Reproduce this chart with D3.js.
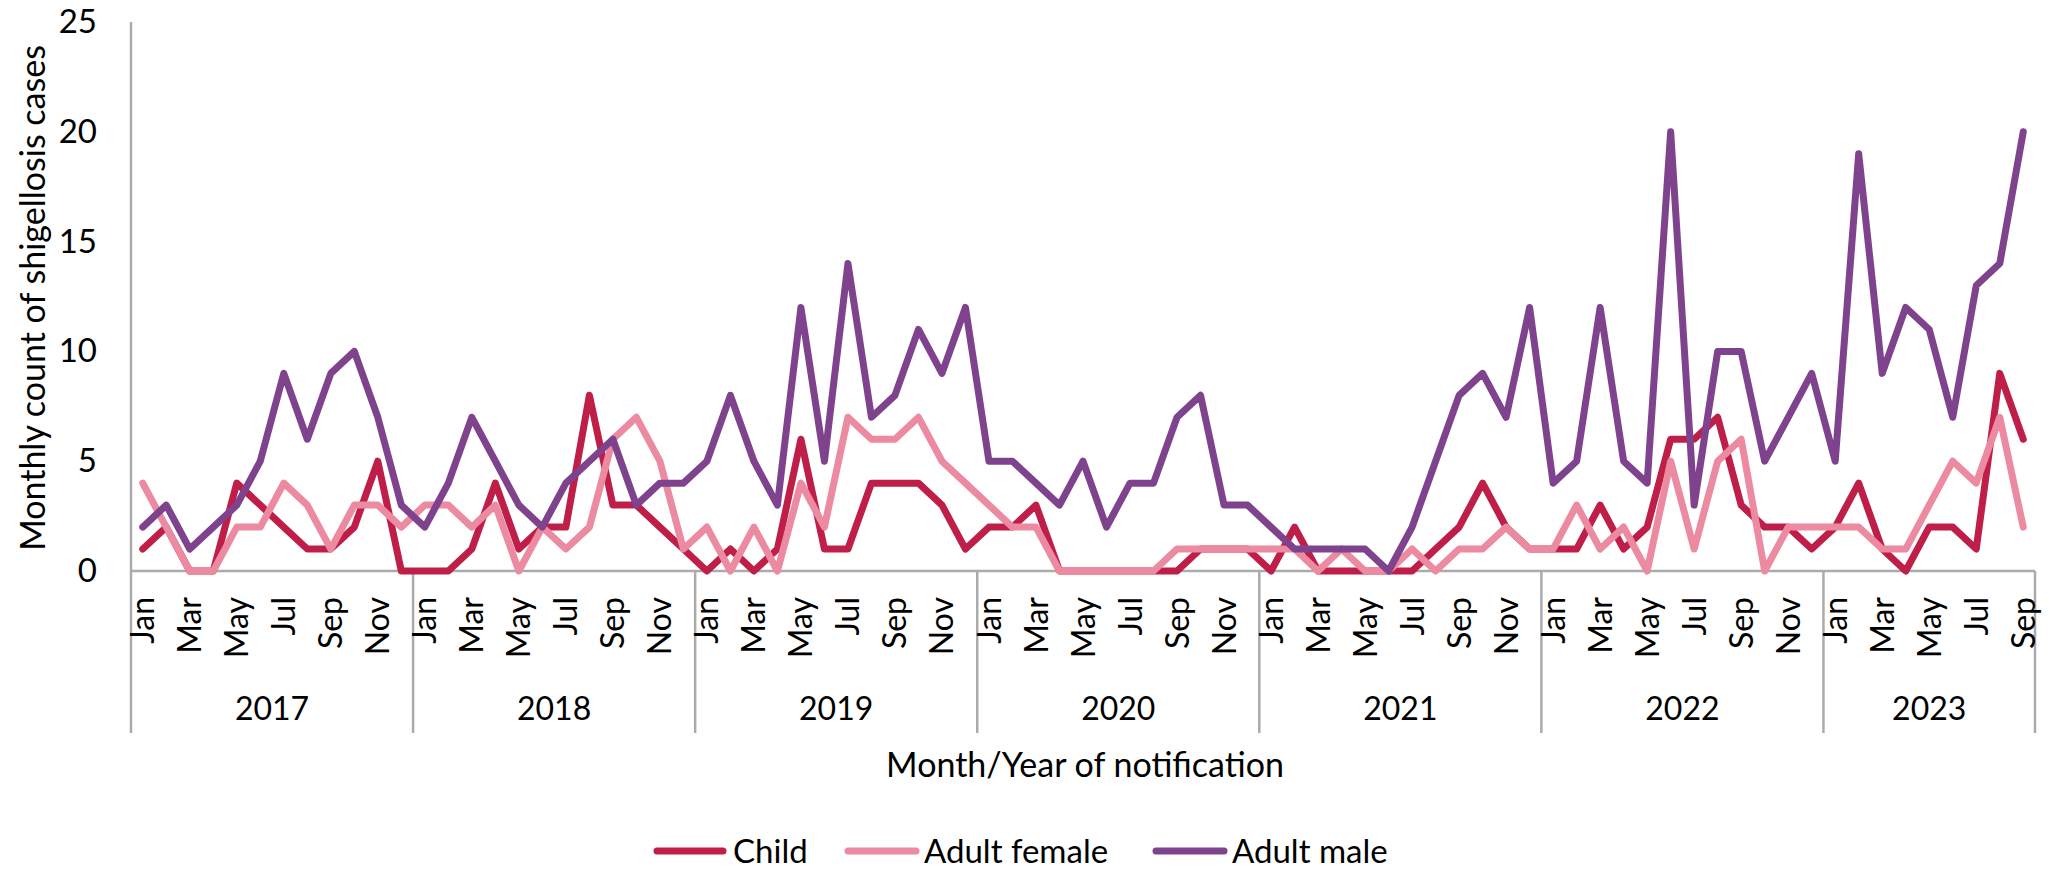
<!DOCTYPE html>
<html>
<head>
<meta charset="utf-8">
<script src="https://cdn.jsdelivr.net/npm/d3@7"></script>
<style>
  html, body { margin: 0; padding: 0; background: #ffffff; }
  svg { display: block; }
  text { font-family: Lato, "Open Sans", sans-serif; fill: #000; }
</style>
</head>
<body>
<svg id="chart" width="2049" height="874"></svg>
<script>
// Monthly shigellosis notifications, Jan 2017 – Sep 2023
const years = [2017, 2018, 2019, 2020, 2021, 2022, 2023];
const monthNames = ["Jan", "Feb", "Mar", "Apr", "May", "Jun", "Jul", "Aug", "Sep", "Oct", "Nov", "Dec"];
const monthsInLastYear = 9;

const child = [
  1, 2, 0, 0, 4, 3, 2, 1, 1, 2, 5, 0,
  0, 0, 1, 4, 1, 2, 2, 8, 3, 3, 2, 1,
  0, 1, 0, 1, 6, 1, 1, 4, 4, 4, 3, 1,
  2, 2, 3, 0, 0, 0, 0, 0, 0, 1, 1, 1,
  0, 2, 0, 0, 0, 0, 0, 1, 2, 4, 2, 1,
  1, 1, 3, 1, 2, 6, 6, 7, 3, 2, 2, 1,
  2, 4, 1, 0, 2, 2, 1, 9, 6
];
const adultFemale = [
  4, 2, 0, 0, 2, 2, 4, 3, 1, 3, 3, 2,
  3, 3, 2, 3, 0, 2, 1, 2, 6, 7, 5, 1,
  2, 0, 2, 0, 4, 2, 7, 6, 6, 7, 5, 4,
  3, 2, 2, 0, 0, 0, 0, 0, 1, 1, 1, 1,
  1, 1, 0, 1, 0, 0, 1, 0, 1, 1, 2, 1,
  1, 3, 1, 2, 0, 5, 1, 5, 6, 0, 2, 2,
  2, 2, 1, 1, 3, 5, 4, 7, 2
];
const adultMale = [
  2, 3, 1, 2, 3, 5, 9, 6, 9, 10, 7, 3,
  2, 4, 7, 5, 3, 2, 4, 5, 6, 3, 4, 4,
  5, 8, 5, 3, 12, 5, 14, 7, 8, 11, 9, 12,
  5, 5, 4, 3, 5, 2, 4, 4, 7, 8, 3, 3,
  2, 1, 1, 1, 1, 0, 2, 5, 8, 9, 7, 12,
  4, 5, 12, 5, 4, 20, 3, 10, 10, 5, 7, 9,
  5, 19, 9, 12, 11, 7, 13, 14, 20
];
const yTicks = [0, 5, 10, 15, 20, 25];

const seriesNames = ["Child", "Adult female", "Adult male"];
const seriesColors = ["#BE1E48", "#EB8AA1", "#7F438E"];
const seriesValues = [child, adultFemale, adultMale];

(function drawChart() {
  // One category per month
  const categories = [];
  years.forEach((yr, yi) => {
    const n = yi === years.length - 1 ? monthsInLastYear : 12;
    for (let m = 0; m < n; m++) categories.push({ year: yr, month: m, label: monthNames[m] });
  });

  const svg = d3.select("#chart");
  const plotLeft = 131, plotRight = 2035, plotTop = 22, plotBottom = 571;
  const catBottom = 733;
  const axisGrey = "#ababab";
  const lineWidth = 7;

  const x = d3.scaleBand().domain(d3.range(categories.length)).range([plotLeft, plotRight]).padding(0);
  const y = d3.scaleLinear().domain([0, 25]).range([plotBottom, plotTop]);
  const cx = i => x(i) + x.bandwidth() / 2;

  // Y axis tick labels
  const yAxis = d3.axisLeft(y).tickValues(yTicks).tickSize(0).tickPadding(34);
  const gy = svg.append("g").attr("transform", `translate(${plotLeft},0)`).call(yAxis);
  gy.select(".domain").remove();
  gy.selectAll("text").attr("font-size", 33).attr("font-family", "Lato, sans-serif").attr("fill", "#000");

  // Axis frame: left axis, baseline, year dividers
  svg.append("line").attr("x1", plotLeft).attr("x2", plotLeft).attr("y1", plotTop).attr("y2", catBottom)
    .attr("stroke", axisGrey).attr("stroke-width", 2.5);
  svg.append("line").attr("x1", plotLeft).attr("x2", plotRight).attr("y1", plotBottom).attr("y2", plotBottom)
    .attr("stroke", axisGrey).attr("stroke-width", 2.5);

  const yearStarts = years.map(yr => categories.findIndex(c => c.year === yr));
  const dividerX = yearStarts.slice(1).map(i => x(i)).concat([plotRight]);
  svg.selectAll(".divider").data(dividerX).join("line")
    .attr("class", "divider")
    .attr("x1", d => d).attr("x2", d => d)
    .attr("y1", plotBottom).attr("y2", catBottom)
    .attr("stroke", axisGrey).attr("stroke-width", 2.5);

  // Month labels (every second month), rotated
  svg.selectAll(".month").data(categories.map((c, i) => ({ c, i })).filter(d => d.c.month % 2 === 0))
    .join("text")
    .attr("class", "month")
    .attr("transform", d => `translate(${cx(d.i)},597) rotate(-90)`)
    .attr("text-anchor", "end")
    .attr("dy", "0.36em")
    .attr("font-size", 32)
    .text(d => d.c.label);

  // Year labels centred under each year group
  svg.selectAll(".year").data(years).join("text")
    .attr("class", "year")
    .attr("x", yr => {
      const idx = d3.range(categories.length).filter(i => categories[i].year === yr);
      return (x(idx[0]) + x(idx[idx.length - 1]) + x.bandwidth()) / 2;
    })
    .attr("y", 709)
    .attr("dy", "0.35em")
    .attr("text-anchor", "middle")
    .attr("font-size", 32)
    .text(d => d);

  // Axis titles
  svg.append("text")
    .attr("x", 1085).attr("y", 765)
    .attr("dy", "0.35em")
    .attr("text-anchor", "middle")
    .attr("font-size", 34)
    .text("Month/Year of notification");

  svg.append("text")
    .attr("transform", "translate(33,298) rotate(-90)")
    .attr("dy", "0.35em")
    .attr("text-anchor", "middle")
    .attr("font-size", 34)
    .text("Monthly count of shigellosis cases");

  // Series lines
  const line = d3.line().x((d, i) => cx(i)).y(d => y(d));
  svg.selectAll(".series").data(seriesValues).join("path")
    .attr("class", "series")
    .attr("d", d => line(d))
    .attr("fill", "none")
    .attr("stroke", (d, k) => seriesColors[k])
    .attr("stroke-width", lineWidth)
    .attr("stroke-linejoin", "round")
    .attr("stroke-linecap", "round");

  // Legend
  const legendY = 851;
  const legendItems = [
    { name: seriesNames[0], color: seriesColors[0], x0: 657, x1: 723, tx: 733 },
    { name: seriesNames[1], color: seriesColors[1], x0: 848, x1: 916, tx: 924 },
    { name: seriesNames[2], color: seriesColors[2], x0: 1156, x1: 1224, tx: 1232 }
  ];
  const lg = svg.append("g");
  legendItems.forEach(it => {
    lg.append("line").attr("x1", it.x0).attr("x2", it.x1).attr("y1", legendY).attr("y2", legendY)
      .attr("stroke", it.color).attr("stroke-width", lineWidth).attr("stroke-linecap", "round");
    lg.append("text").attr("x", it.tx).attr("y", legendY).attr("dy", "0.35em")
      .attr("font-size", 33).text(it.name);
  });
})();
</script>
</body>
</html>
